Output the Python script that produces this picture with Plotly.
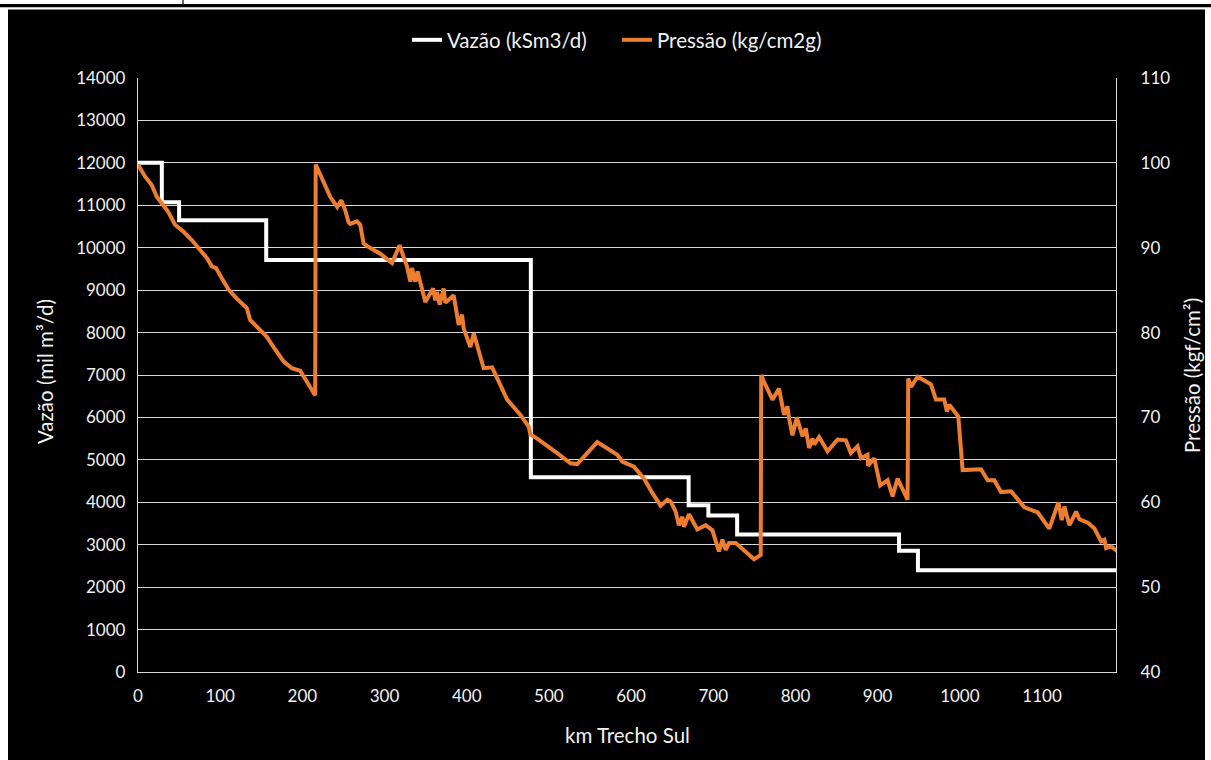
import plotly.graph_objects as go

# Vazão (step) data
km_vazao = [0, 29, 50, 156, 478, 670, 694, 729, 926, 949, 1192]
vazao = [12000, 11070, 10650, 9710, 4590, 3930, 3690, 3240, 2860, 2400, 2400]

# Pressão data
km_pressao = [0, 8.5, 16.7, 22.8, 30.8, 36.9, 45.1, 55.2, 65.4, 75.5, 83.7, 89.8, 95.0, 102.0, 110.0,
              120.2, 132.4, 136.4, 146.6, 156.8, 164.8, 177.0, 187.2, 197.3, 205.5, 215.6, 216.2, 233.9,
              242.4, 247.3, 252.2, 256.2, 258.3, 266.4, 270.4, 274.5, 278.6, 294.8, 309.1, 318.3, 323.2,
              327.3, 331.4, 333.4, 337.4, 340.2, 349.6, 359.0, 361.8, 363.9, 367.0, 371.9, 374.0, 384.1,
              390.2, 394.3, 396.3, 404.4, 408.5, 420.6, 430.9, 443.1, 449.2, 465.4, 475.5, 477.5, 485.7,
              510.1, 526.3, 534.4, 558.8, 583.2, 589.2, 603.4, 615.6, 625.8, 635.9, 644.1, 648.1, 654.2,
              658.2, 662.3, 664.3, 670.4, 680.6, 690.7, 698.9, 706.9, 711.1, 715.1, 719.1, 727.3, 749.6,
              757.7, 758.3, 761.7, 772.0, 780.0, 786.1, 790.2, 792.2, 796.3, 801.6, 808.5, 812.5, 816.6,
              820.7, 822.7, 828.7, 839.0, 851.2, 861.3, 867.4, 875.5, 879.6, 887.7, 888.4, 895.8, 903.1,
              912.1, 918.2, 924.2, 936.4, 937.2, 940.5, 948.6, 964.8, 970.9, 981.0, 984.3, 987.1, 998.1,
              1003.4, 1025.7, 1033.9, 1041.9, 1046.1, 1050.1, 1062.3, 1078.5, 1094.8, 1108.9, 1119.9,
              1124.0, 1127.2, 1133.3, 1141.5, 1145.5, 1155.7, 1163.8, 1171.9, 1175.9, 1178.0, 1184.1, 1192.0]
pressao = [99.8, 98.4, 97.4, 96.0, 95.0, 94.2, 92.7, 91.9, 90.9, 89.7, 88.8, 87.8, 87.6, 86.4, 85.1,
           84.0, 82.9, 81.5, 80.5, 79.5, 78.3, 76.6, 75.8, 75.5, 74.2, 72.6, 99.8, 96.0,
           94.8, 95.6, 94.4, 93.0, 92.8, 93.1, 92.7, 90.5, 90.2, 89.3, 88.2, 90.3, 88.9,
           87.8, 86.0, 87.6, 86.0, 87.2, 83.6, 85.2, 83.8, 84.8, 83.3, 85.2, 83.5, 84.4,
           80.9, 82.1, 80.5, 78.3, 79.9, 75.8, 75.9, 73.2, 72.1, 70.3, 68.9, 68.0, 67.5,
           65.8, 64.6, 64.5, 67.1, 65.6, 64.8, 64.2, 62.8, 61.1, 59.6, 60.3, 60.1, 58.9,
           57.3, 58.3, 57.1, 58.6, 56.8, 57.3, 56.7, 54.2, 55.6, 54.4, 55.2, 55.2, 53.3,
           53.8, 75.0, 74.2, 72.1, 73.4, 70.3, 71.3, 69.9, 67.9, 70.0, 67.8, 68.7, 66.4,
           67.5, 66.8, 67.7, 66.0, 67.4, 67.3, 65.8, 66.6, 65.2, 65.6, 64.3, 65.2, 62.0,
           62.6, 60.7, 62.8, 60.3, 74.6, 73.6, 74.8, 73.9, 72.1, 72.1, 70.7, 71.5, 70.1,
           63.8, 63.9, 62.6, 62.6, 61.8, 61.2, 61.3, 59.4, 58.8, 56.9, 60.0,
           57.9, 59.5, 57.3, 58.9, 58.0, 57.6, 56.9, 55.4, 55.6, 54.6, 54.8, 54.2]

x_ticks = list(range(0, 1101, 100))

FONT = "Lato"
TXT = "#f2f2f2"
GRID = "#d9d9d9"

# plot area in pixels: left 138, right 1116, top 78, bottom 672
L, R, T, B = 138, 1116, 78, 672
W, H = R - L, B - T
def px(x):
    return (x - L) / W
def py(y):
    return (B - y) / H

fig = go.Figure()
fig.add_trace(go.Scatter(x=km_vazao, y=vazao, mode="lines", line=dict(color="#ffffff", width=4, shape="hv"),
                         name="Vazão (kSm3/d)", yaxis="y"))
fig.add_trace(go.Scatter(x=km_pressao, y=pressao, mode="lines", line=dict(color="#ed7d31", width=4),
                         name="Pressão (kg/cm2g)", yaxis="y2"))

shapes = [
    dict(type="rect", xref="paper", yref="paper", x0=px(8), x1=px(1205), y0=py(780), y1=py(9.5),
         fillcolor="#000000", line=dict(width=0), layer="below"),
    dict(type="rect", xref="paper", yref="paper", x0=px(-10), x1=px(1225), y0=py(7.3), y1=py(4),
         fillcolor="#000000", line=dict(width=0), layer="below"),
    dict(type="line", xref="paper", yref="paper", x0=px(183), x1=px(183), y0=py(4), y1=py(-2),
         line=dict(color="#000000", width=1.2), layer="below"),
]

annotations = [
    dict(text="Vazão (mil m³/d)", xref="paper", yref="paper", x=px(45), y=py(372), textangle=-90,
         showarrow=False, font=dict(family=FONT, size=20.5, color=TXT), xanchor="center", yanchor="middle"),
    dict(text="Pressão (kgf/cm²)", xref="paper", yref="paper", x=px(1192), y=py(376), textangle=-90,
         showarrow=False, font=dict(family=FONT, size=20.5, color=TXT), xanchor="center", yanchor="middle"),
    dict(text="km Trecho Sul", xref="paper", yref="paper", x=px(627), y=py(735),
         showarrow=False, font=dict(family=FONT, size=20.5, color=TXT), xanchor="center", yanchor="middle"),
]

fig.update_layout(
    width=1211, height=760,
    margin=dict(l=L, r=1211 - R, t=T, b=760 - B),
    paper_bgcolor="#ffffff", plot_bgcolor="#000000",
    font=dict(family=FONT, size=17, color=TXT),
    showlegend=True,
    legend=dict(orientation="h", x=px(617), y=py(40), xanchor="center", yanchor="middle",
                font=dict(family=FONT, size=20.5, color=TXT), bgcolor="rgba(0,0,0,0)",
                itemwidth=30, tracegroupgap=0, entrywidth=165, entrywidthmode="pixels"),
    xaxis=dict(range=[0, 1190], tickvals=x_ticks, showgrid=False, zeroline=False,
               showline=True, linecolor=GRID, linewidth=1.3, ticks="", ticklabelstandoff=8,
               tickfont=dict(family=FONT, size=17, color=TXT)),
    yaxis=dict(range=[0, 14000], dtick=1000, tickformat="d", showgrid=True, gridcolor=GRID, gridwidth=1.3,
               zeroline=False, showline=True, linecolor=GRID, linewidth=1.3, ticks="",
               ticklabelstandoff=8, tickfont=dict(family=FONT, size=17, color=TXT)),
    yaxis2=dict(range=[40, 110], dtick=10, overlaying="y", side="right", showgrid=False,
                zeroline=False, showline=True, linecolor=GRID, linewidth=1.3, ticks="",
                ticklabelstandoff=20, tickfont=dict(family=FONT, size=17, color=TXT)),
    shapes=shapes,
    annotations=annotations,
)

fig.write_html("out.html", config={"displayModeBar": False},
               post_script="document.body.style.margin='0px';document.body.style.overflow='hidden';")
